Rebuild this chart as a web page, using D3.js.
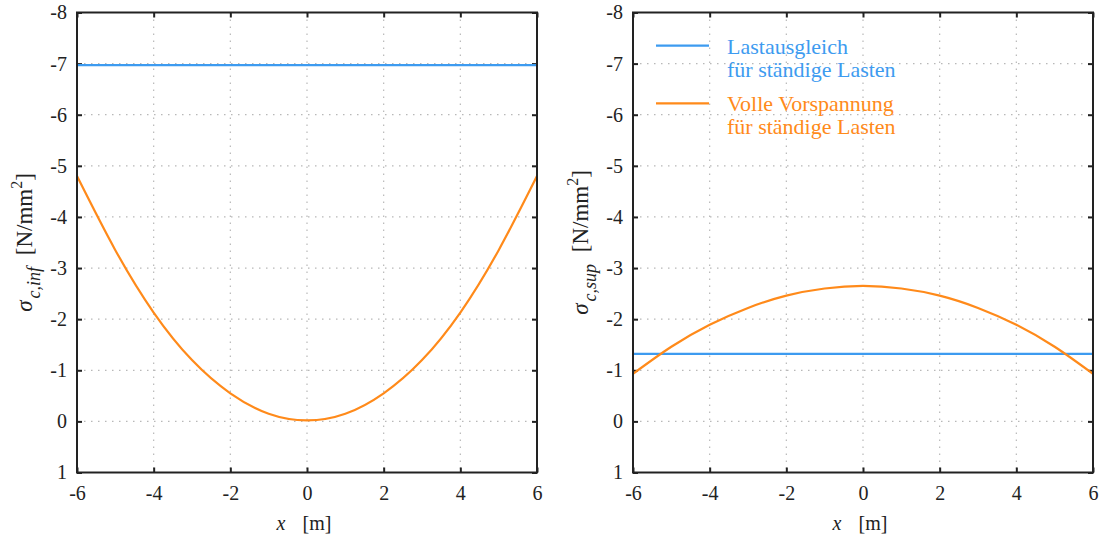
<!DOCTYPE html>
<html><head><meta charset="utf-8">
<script src="https://cdn.jsdelivr.net/npm/d3@7"></script>
<style>body{margin:0;background:#fff}svg{display:block}</style>
</head><body>
<svg id="c" width="1102" height="537"></svg>
<script>
const xValues = [-6,-5,-4,-3,-2,-1,0,1,2,3,4,5,6];
const infBalance = [-6.97,-6.97,-6.97,-6.97,-6.97,-6.97,-6.97,-6.97,-6.97,-6.97,-6.97,-6.97,-6.97];
const infFull = [-4.80,-3.35,-2.13,-1.20,-0.55,-0.15,-0.02,-0.15,-0.55,-1.20,-2.13,-3.35,-4.80];
const supBalance = [-1.32,-1.32,-1.32,-1.32,-1.32,-1.32,-1.32,-1.32,-1.32,-1.32,-1.32,-1.32,-1.32];
const supFull = [-0.93,-1.46,-1.89,-2.22,-2.46,-2.60,-2.65,-2.60,-2.46,-2.22,-1.89,-1.46,-0.93];
const xTicks = [-6,-4,-2,0,2,4,6];
const yTicks = [-8,-7,-6,-5,-4,-3,-2,-1,0,1];
const legendLabels = [["Lastausgleich","für ständige Lasten"],["Volle Vorspannung","für ständige Lasten"]];
const colors = ["#3d9bf0","#ff8a1a"];
const FONT = "'Liberation Serif', 'Times New Roman', serif";

const svg = d3.select("#c").attr("font-family", FONT);
const panels = [
  {left:77, sub:"c,inf", series:[infBalance, infFull], legend:false},
  {left:633, sub:"c,sup", series:[supBalance, supFull], legend:true}
];
const PW = 460, PT = 12.5, PH = 460;

panels.forEach(p => {
  const g = svg.append("g").attr("transform", `translate(${p.left},${PT})`);
  const x = d3.scaleLinear().domain([-6,6]).range([0,PW]);
  const y = d3.scaleLinear().domain([-8,1]).range([0,PH]);
  g.append("g").selectAll("line").data(xTicks.slice(1,-1)).join("line")
    .attr("x1",d=>x(d)).attr("x2",d=>x(d)).attr("y1",0).attr("y2",PH)
    .attr("stroke","#b8b8b8").attr("stroke-width",1.2).attr("stroke-dasharray","1.5,5.5");
  g.append("g").selectAll("line").data(yTicks.slice(1,-1)).join("line")
    .attr("y1",d=>y(d)).attr("y2",d=>y(d)).attr("x1",0).attr("x2",PW)
    .attr("stroke","#b8b8b8").attr("stroke-width",1.2).attr("stroke-dasharray","1.5,5.5");
  const ax = (gen, tr) => {
    const a = g.append("g").attr("transform", tr).call(gen);
    a.attr("font-family", FONT).attr("font-size", 20);
    a.select(".domain").remove();
    a.selectAll("line").attr("stroke","#222").attr("stroke-width",2);
    a.selectAll("text").style("font-family",FONT).style("font-size","20px").style("fill","#222");
    return a;
  };
  ax(d3.axisBottom(x).tickValues(xTicks).tickSize(-5).tickPadding(13).tickFormat(d=>String(d)), `translate(0,${PH})`);
  ax(d3.axisTop(x).tickValues(xTicks).tickSize(-5).tickFormat(""), `translate(0,0)`);
  ax(d3.axisLeft(y).tickValues(yTicks).tickSize(-5).tickPadding(10).tickFormat(d=>String(d)), `translate(0,0)`);
  ax(d3.axisRight(y).tickValues(yTicks).tickSize(-5).tickFormat(""), `translate(${PW},0)`);
  const line = d3.line().x((d,i)=>x(xValues[i])).y(d=>y(d)).curve(d3.curveNatural);
  p.series.forEach((s,k) => {
    g.append("path").datum(s).attr("d",line).attr("fill","none")
      .attr("stroke",colors[k]).attr("stroke-width",2.2);
  });
  g.append("rect").attr("x",0).attr("y",0).attr("width",PW).attr("height",PH)
    .attr("fill","none").attr("stroke","#222").attr("stroke-width",2);
  const xl = g.append("text").attr("x",PW/2 - 3).attr("y",PH+57).attr("text-anchor","middle")
    .style("font-family",FONT).style("font-size","20px").style("fill","#222");
  xl.append("tspan").style("font-style","italic").text("x");
  xl.append("tspan").attr("dx",12).text(" [m]");
  const yl = g.append("text").attr("transform",`translate(-45,${PH/2}) rotate(-90)`).attr("text-anchor","middle")
    .style("font-family",FONT).style("font-size","23px").style("fill","#222");
  yl.append("tspan").style("font-style","italic").text("σ");
  yl.append("tspan").attr("dy",8).attr("dx",2).style("font-style","italic").style("font-size","18px").text(p.sub);
  yl.append("tspan").attr("dy",-8).attr("dx",6).text(" [N/mm");
  yl.append("tspan").attr("dy",-10).style("font-size","16px").text("2");
  yl.append("tspan").attr("dy",10).text("]");
  if (p.legend) {
    legendLabels.forEach((lab,k) => {
      const ly = 33.2 + k*57.6;
      g.append("line").attr("x1",23).attr("x2",76).attr("y1",ly).attr("y2",ly)
        .attr("stroke",colors[k]).attr("stroke-width",2.2);
      lab.forEach((t,j) => {
        g.append("text").attr("x",94).attr("y",ly+7.8+j*23.3)
          .style("font-family",FONT).style("font-size","22px")
          .style("fill",colors[k]).text(t);
      });
    });
  }
});
</script>
</body></html>
